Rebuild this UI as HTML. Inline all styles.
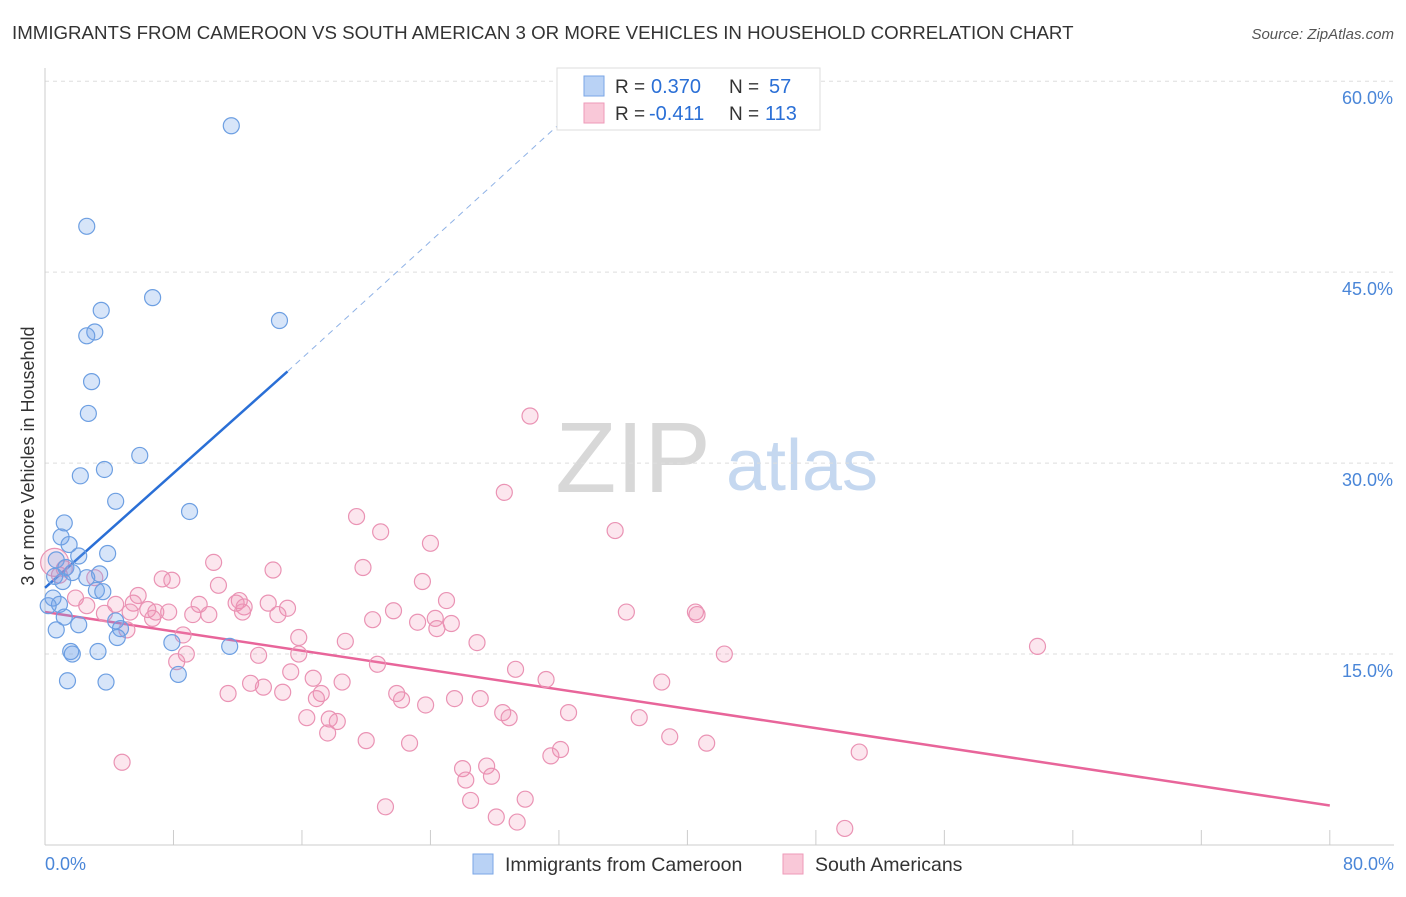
<!DOCTYPE html>
<html><head><meta charset="utf-8"><style>
body{margin:0;background:#fff;font-family:"Liberation Sans",sans-serif}
svg text{font-family:"Liberation Sans",sans-serif}
</style></head><body>
<svg id="chart" width="1406" height="892">
<text x="12" y="39" font-size="18.7" fill="#333">IMMIGRANTS FROM CAMEROON VS SOUTH AMERICAN 3 OR MORE VEHICLES IN HOUSEHOLD CORRELATION CHART</text>
<text x="1394" y="39" font-size="15" fill="#555" font-style="italic" text-anchor="end">Source: ZipAtlas.com</text>
<text x="633" y="492" font-size="100" fill="#d8d8d8" text-anchor="middle" font-family="Liberation Serif">ZIP</text>
<text x="802" y="490" font-size="72" fill="#c5d8f0" text-anchor="middle">atlas</text>
<g id="grid"></g><g id="axes"></g><g id="trends"></g><g id="pts"></g>
<text transform="translate(34,456) rotate(-90)" font-size="18" fill="#333" text-anchor="middle">3 or more Vehicles in Household</text>
<text x="45" y="870" font-size="18" fill="#4a86d8">0.0%</text>
<text x="1394" y="870" font-size="18" fill="#4a86d8" text-anchor="end">80.0%</text>
<g>
<rect x="557" y="68" width="263" height="62" fill="#fff" stroke="#ddd"/>
<rect x="584" y="76" width="20" height="20" fill="#b9d2f5" stroke="#7aa6e6"/>
<rect x="584" y="103" width="20" height="20" fill="#f9c8d8" stroke="#ee9ab8"/>
<text x="615" y="93" font-size="19" fill="#333">R =</text>
<text x="651" y="93" font-size="20" fill="#2a6fd6">0.370</text>
<text x="729" y="93" font-size="19" fill="#333">N =</text>
<text x="769" y="93" font-size="20" fill="#2a6fd6">57</text>
<text x="615" y="120" font-size="19" fill="#333">R =</text>
<text x="649" y="120" font-size="20" fill="#2a6fd6">-0.411</text>
<text x="729" y="120" font-size="19" fill="#333">N =</text>
<text x="765" y="120" font-size="20" fill="#2a6fd6">113</text>
</g>
<g><rect x="473" y="854" width="20" height="20" fill="#b9d2f5" stroke="#7aa6e6"/><text x="505" y="871" font-size="19.5" fill="#333">Immigrants from Cameroon</text></g>
<g><rect x="783" y="854" width="20" height="20" fill="#f9c8d8" stroke="#ee9ab8"/><text x="815" y="871" font-size="19.5" fill="#333">South Americans</text></g>
</svg>
<script>
const yTicks=[15,30,45,60];
const xTicks=[0,8,16,24,32,40,48,56,64,72,80];
const blueX=[11.6,2.6,6.7,3.5,14.6,3.1,2.6,2.9,2.7,5.9,3.7,2.2,4.4,9.0,1.2,1.0,1.5,3.9,2.1,0.7,1.3,1.7,3.4,0.6,2.6,1.1,3.2,3.6,0.5,0.9,0.2,1.2,4.4,2.1,4.7,0.7,4.5,7.9,11.5,1.6,1.7,3.3,8.3,1.4,3.8];
const blueY=[56.5,48.6,43.0,42.0,41.2,40.3,40.0,36.4,33.9,30.6,29.5,29.0,27.0,26.2,25.3,24.2,23.6,22.9,22.7,22.4,21.8,21.4,21.3,21.1,21.0,20.7,20.0,19.9,19.4,18.9,18.8,17.9,17.6,17.3,17.0,16.9,16.3,15.9,15.6,15.2,15.0,15.2,13.4,12.9,12.8];
const pinkX=[30.2,28.6,19.4,20.9,35.5,24.0,10.5,19.8,14.2,7.3,7.9,23.5,3.1,10.8,25.0,5.8,1.9,12.1,11.9,5.5,13.9,4.4,9.6,12.4,15.1,2.6,6.4,6.9,7.7,9.2,10.2,12.3,21.7,36.2,40.5,40.6,14.5,5.3,3.7,6.7,20.4,23.2,24.3,25.3,24.4,5.1,18.7,15.8,8.6,26.9,61.8,42.3,15.8,8.8,13.3,8.2,20.7,29.3,15.3,16.7,31.2,38.4,12.8,18.5,13.6,14.8,11.4,17.2,21.9,16.9,25.5,27.1,22.2,23.7,28.5,32.6,16.3,17.7,18.2,28.9,37.0,17.6,38.9,20.0,22.7,41.2,32.1,31.5,50.7,4.8,26.0,27.5,26.2,27.8,29.9,26.5,21.2,28.1,29.4,49.8,0.6,0.9,1.2];
const pinkY=[33.7,27.7,25.8,24.6,24.7,23.7,22.2,21.8,21.6,20.9,20.8,20.7,21.0,20.4,19.2,19.6,19.4,19.2,19.0,19.0,19.0,18.9,18.9,18.7,18.6,18.8,18.5,18.3,18.3,18.1,18.1,18.3,18.4,18.3,18.3,18.1,18.1,18.3,18.2,17.8,17.7,17.5,17.8,17.4,17.0,16.9,16.0,16.3,16.5,15.9,15.6,15.0,15.0,15.0,14.9,14.4,14.2,13.8,13.6,13.1,13.0,12.8,12.7,12.8,12.4,12.0,11.9,11.9,11.9,11.5,11.5,11.5,11.4,11.0,10.4,10.4,10.0,9.9,9.7,10.0,10.0,8.8,8.5,8.2,8.0,8.0,7.5,7.0,7.3,6.5,6.0,6.2,5.1,5.4,3.6,3.5,3.0,2.2,1.8,1.3,22.2,21.2,21.7];
const blueTrend=[[0,20.2],[15.1,37.2]];
const blueDash=[[15.1,37.2],[34.0,58.9]];
const pinkTrend=[[0,18.3],[80,3.1]];
const X=v=>45+v*16.06, Y=v=>845-v*12.73;
const NS='http://www.w3.org/2000/svg';
function mk(tag,parent,attrs){const e=document.createElementNS(NS,tag);for(const k in attrs)e.setAttribute(k,attrs[k]);document.getElementById(parent).appendChild(e);return e;}
yTicks.forEach(t=>{
 const l=mk('line','grid',{x1:45,x2:1394,y1:Y(t),y2:Y(t),stroke:'#ddd','stroke-dasharray':'4,4'});
 
 
 const tx=mk('text','grid',{x:1393,y:Y(t)+23,'font-size':18,fill:'#4a86d8','text-anchor':'end'});tx.textContent=t.toFixed(1)+'%';
 
 
});
const ax=mk('line','axes',{x1:45,x2:45,y1:68,y2:845,stroke:'#ccc'});


const bx=mk('line','axes',{x1:45,x2:1394,y1:845,y2:845,stroke:'#ccc'});


xTicks.forEach(t=>{const l=mk('line','axes',{x1:X(t),x2:X(t),y1:830,y2:845,stroke:'#ccc'});
 
 });
function pts(xs,ys,fill,stroke,name){xs.forEach((x,i)=>{const big=(x<=0.6&&(ys[i]>22||ys[i]<16.5));
 const c=mk('circle','pts',{cx:X(x),cy:Y(ys[i]),r:big?14:8,fill:fill,stroke:stroke,'stroke-width':1.2});
 
 });}
pts(pinkX,pinkY,'rgba(242,140,178,0.22)','#ea93b4','south-american-point');
pts(blueX,blueY,'rgba(110,160,235,0.28)','#6d9fe2','cameroon-point');
const t1=mk('line','trends',{x1:X(blueTrend[0][0]),y1:Y(blueTrend[0][1]),x2:X(blueTrend[1][0]),y2:Y(blueTrend[1][1]),stroke:'#2a6fd6','stroke-width':2.5});


const t2=mk('line','trends',{x1:X(blueDash[0][0]),y1:Y(blueDash[0][1]),x2:X(blueDash[1][0]),y2:Y(blueDash[1][1]),stroke:'#8fb2e6','stroke-width':1,'stroke-dasharray':'6,5'});


const t3=mk('line','trends',{x1:X(pinkTrend[0][0]),y1:Y(pinkTrend[0][1]),x2:X(pinkTrend[1][0]),y2:Y(pinkTrend[1][1]),stroke:'#e8659a','stroke-width':2.5});


</script>
</body></html>
